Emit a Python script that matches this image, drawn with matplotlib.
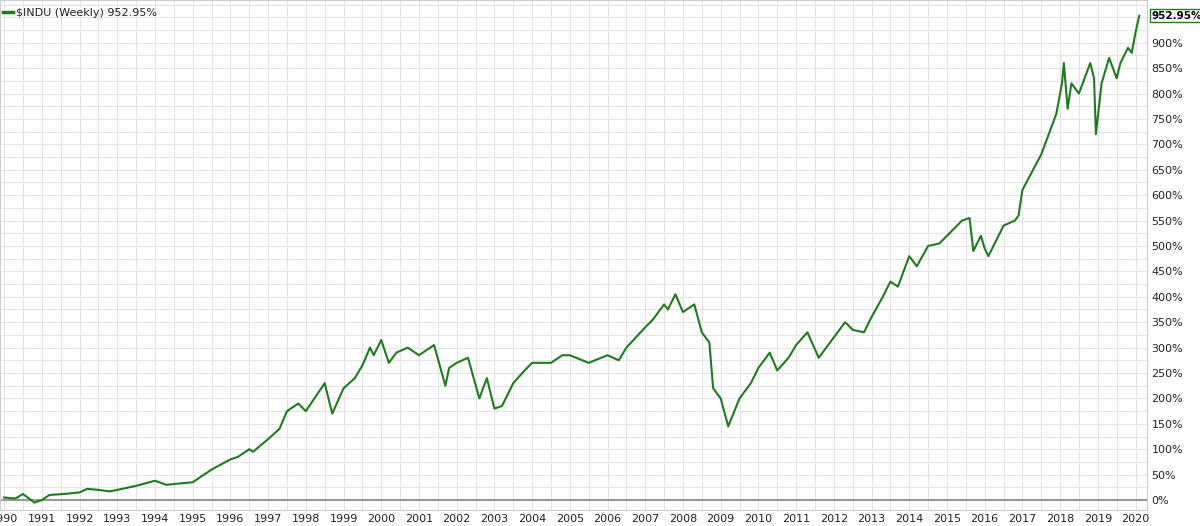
import matplotlib.pyplot as plt
from matplotlib.ticker import MultipleLocator, FuncFormatter

# approximate turning points of the weekly $INDU % change
years = [1990.0, 1990.3, 1990.5, 1990.8, 1991.0, 1991.2, 1991.6, 1992.0, 1992.2, 1992.5,
         1992.8, 1993.0, 1993.5, 1994.0, 1994.3, 1994.7, 1995.0, 1995.5, 1996.0, 1996.2,
         1996.5, 1996.6, 1997.0, 1997.3, 1997.5, 1997.8, 1998.0, 1998.5, 1998.7, 1999.0,
         1999.3, 1999.5, 1999.7, 1999.8, 2000.0, 2000.2, 2000.4, 2000.7, 2001.0, 2001.4,
         2001.7, 2001.8, 2002.0, 2002.3, 2002.6, 2002.8, 2003.0, 2003.2, 2003.5, 2003.8,
         2004.0, 2004.5, 2004.8, 2005.0, 2005.5, 2006.0, 2006.3, 2006.5, 2007.0, 2007.2,
         2007.5, 2007.6, 2007.8, 2008.0, 2008.3, 2008.5, 2008.7, 2008.8, 2009.0, 2009.2,
         2009.5, 2009.8, 2010.0, 2010.3, 2010.5, 2010.8, 2011.0, 2011.3, 2011.6, 2011.8,
         2012.0, 2012.3, 2012.5, 2012.8, 2013.0, 2013.3, 2013.5, 2013.7, 2014.0, 2014.2,
         2014.5, 2014.8, 2015.0, 2015.4, 2015.6, 2015.7, 2015.9, 2016.0, 2016.1, 2016.5,
         2016.8, 2016.9, 2017.0, 2017.5, 2017.9, 2018.05, 2018.1, 2018.2, 2018.3, 2018.5,
         2018.8, 2018.9, 2018.95, 2019.1, 2019.3, 2019.5, 2019.6, 2019.8, 2019.9, 2020.0,
         2020.1]
pct = [5, 3, 12, -5, 0, 10, 12, 15, 22, 20,
       17, 20, 28, 38, 30, 33, 35, 60, 80, 85,
       100, 95, 120, 140, 175, 190, 175, 230, 170, 220,
       240, 265, 300, 285, 315, 270, 290, 300, 285, 305,
       225, 260, 270, 280, 200, 240, 180, 185, 230, 255,
       270, 270, 285, 285, 270, 285, 275, 300, 340, 355,
       385, 375, 405, 370, 385, 330, 310, 220, 200, 145,
       200, 230, 260, 290, 255, 280, 305, 330, 280, 300,
       320, 350, 335, 330, 360, 400, 430, 420, 480, 460,
       500, 505, 520, 550, 555, 490, 520, 495, 480, 540,
       550, 560, 610, 680, 760, 820, 860, 770, 820, 800,
       860, 830, 720, 820, 870, 830, 860, 890, 880, 920,
       952.95]
year_labels = list(range(1990, 2021))
pct_ticks = list(range(0, 901, 50))

fig = plt.figure(figsize=(12, 5.26), dpi=100)
ax = fig.add_axes([0, 0.03, 0.956, 0.97])
ax.plot(years, pct, color='#217a21', lw=1.5, zorder=3)
ax.axhline(0, color='#999999', lw=1.5, zorder=2)

ax.set_xlim(1989.89, 2020.31)
ax.set_ylim(-20, 984)
ax.xaxis.set_minor_locator(MultipleLocator(0.5))
ax.yaxis.set_minor_locator(MultipleLocator(25))
ax.set_xticks(year_labels)
ax.set_xticklabels([str(y) for y in year_labels])
ax.set_yticks(pct_ticks)
ax.yaxis.set_major_formatter(FuncFormatter(lambda v, p: f'{int(v)}%'))
ax.yaxis.tick_right()
ax.tick_params(axis='both', which='both', length=0, labelsize=8, colors='#222222', pad=3)
ax.grid(which='both', color='#e4e4e4', lw=0.8, zorder=0)
for s in ax.spines.values():
    s.set_color('#cccccc')

ax.text(0.014, 0.985, '$INDU (Weekly) 952.95%', transform=ax.transAxes, fontsize=8,
        va='top', color='#222222')
ax.plot([0.003, 0.011], [0.976, 0.976], transform=ax.transAxes, color='#217a21', lw=2.5)
ax.annotate('952.95%', xy=(1, pct[-1]), xycoords=('axes fraction', 'data'), xytext=(3, 0),
            textcoords='offset points', va='center', fontsize=7.5, fontweight='bold',
            bbox=dict(boxstyle='square,pad=0.15', fc='white', ec='#217a21', lw=1),
            annotation_clip=False)

fig.savefig('out.png')
